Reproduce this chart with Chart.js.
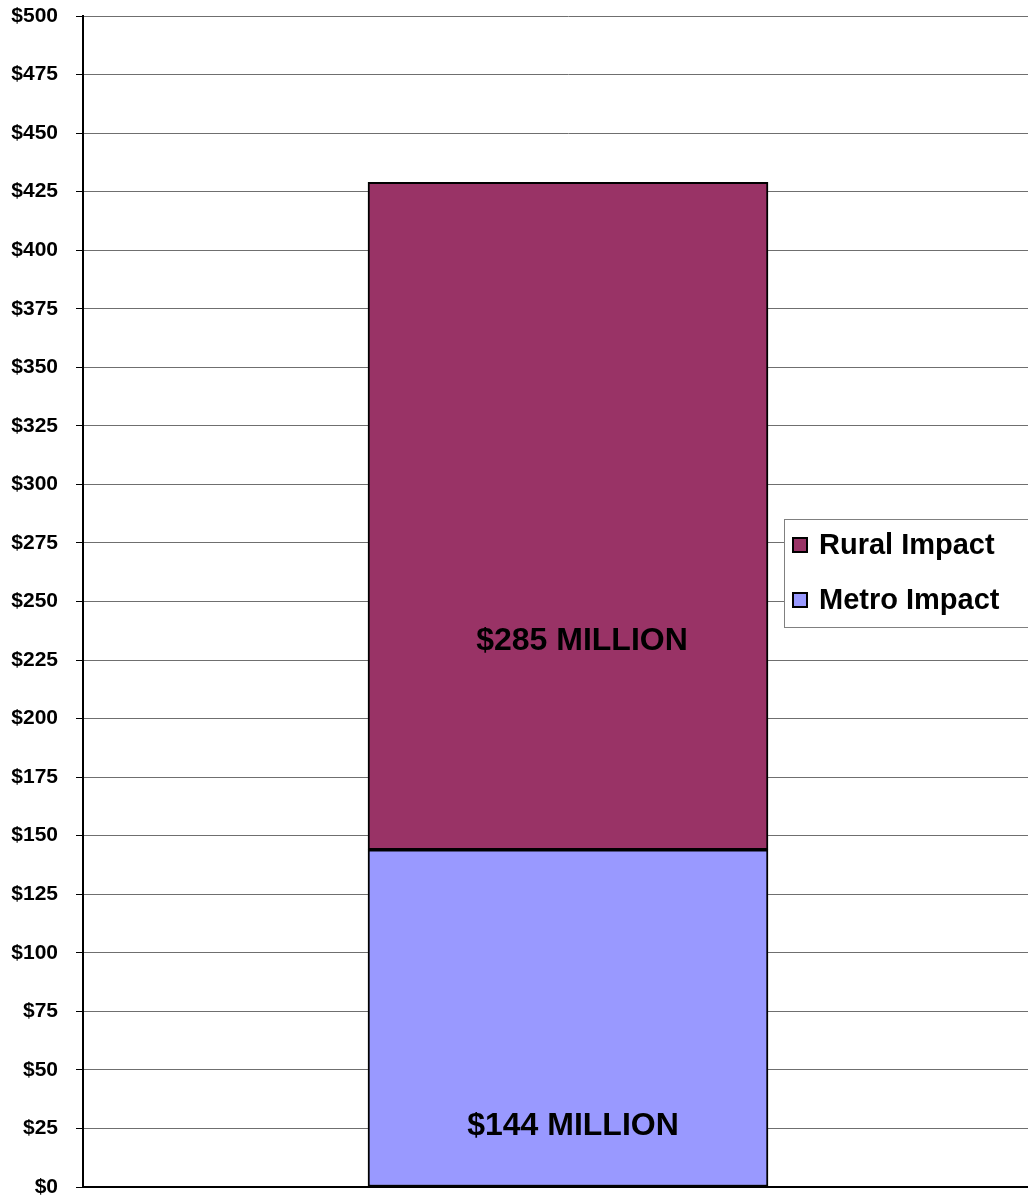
<!DOCTYPE html>
<html>
<head>
<meta charset="utf-8">
<script src="https://cdn.jsdelivr.net/npm/chart.js@4.4.0/dist/chart.umd.min.js"></script>
<style>
  html, body { margin: 0; padding: 0; background: #fff; overflow: hidden; }
  #wrap { width: 1053px; height: 1198px; position: relative; }
</style>
</head>
<body>
<div id="wrap"><canvas id="chart"></canvas></div>
<script>
// data ($ millions)
const categories = [''];
const seriesNames = ['Metro Impact', 'Rural Impact'];
const metroValues = [144];
const ruralValues = [285];
const barLabels = ['$144 MILLION', '$285 MILLION'];
const yTicks = [0, 25, 50, 75, 100, 125, 150, 175, 200, 225, 250, 275, 300, 325, 350, 375, 400, 425, 450, 475, 500];

const FONT = '"Liberation Sans", Arial, Helvetica, sans-serif';
const metroColor = '#9999ff';
const ruralColor = '#993366';

// big labels inside the bar segments + boxed legend sitting over the plot
const overlayPlugin = {
  id: 'overlay',
  afterDatasetsDraw(chart) {
    const ctx = chart.ctx;
    ctx.save();
    ctx.fillStyle = '#000';
    ctx.font = 'bold 32px ' + FONT;
    ctx.textAlign = 'center';
    ctx.textBaseline = 'middle';
    // where the label sits inside each segment (fraction from its top)
    const frac = [0.82, 0.687];
    const dx = [5, 14];
    chart.data.datasets.forEach((ds, i) => {
      const bar = chart.getDatasetMeta(i).data[0];
      const top = Math.min(bar.y, bar.base);
      const h = Math.abs(bar.base - bar.y);
      ctx.fillText(barLabels[i], bar.x + dx[i], top + h * frac[i]);
    });
    ctx.restore();
  },
  afterDraw(chart) {
    const ctx = chart.ctx;
    const lx = 784.5, ly = 519.5, lw = 300, lh = 108;
    ctx.save();
    ctx.fillStyle = '#fff';
    ctx.fillRect(lx, ly, lw, lh);
    ctx.strokeStyle = '#808080';
    ctx.lineWidth = 1;
    ctx.strokeRect(lx, ly, lw, lh);
    ctx.font = 'bold 29px ' + FONT;
    ctx.textBaseline = 'middle';
    const items = chart.data.datasets.slice().reverse();
    items.forEach((ds, i) => {
      const cy = 545 + i * 55;
      ctx.fillStyle = ds.backgroundColor;
      ctx.fillRect(793, cy - 7, 14, 14);
      ctx.strokeStyle = '#000';
      ctx.lineWidth = 2;
      ctx.strokeRect(793, cy - 7, 14, 14);
      ctx.fillStyle = '#000';
      ctx.fillText(ds.label, 819, cy + 1);
    });
    ctx.restore();
  }
};

new Chart(document.getElementById('chart'), {
  type: 'bar',
  data: {
    labels: categories,
    datasets: [
      {
        label: seriesNames[0],
        data: metroValues,
        backgroundColor: metroColor,
        borderColor: '#000',
        borderWidth: 2,
        borderSkipped: false,
        barThickness: 400
      },
      {
        label: seriesNames[1],
        data: ruralValues,
        backgroundColor: ruralColor,
        borderColor: '#000',
        borderWidth: 2,
        borderSkipped: false,
        barThickness: 400
      }
    ]
  },
  options: {
    responsive: true,
    maintainAspectRatio: false,
    animation: false,
    layout: { padding: { top: 16, right: 0, bottom: 11, left: 0 } },
    plugins: {
      legend: { display: false },
      tooltip: { enabled: false }
    },
    scales: {
      x: {
        stacked: true,
        grid: { display: false },
        ticks: { display: false },
        border: { display: true, color: '#000', width: 2 },
        afterFit: scale => { scale.height = 0; }
      },
      y: {
        stacked: true,
        min: 0,
        max: 500,
        afterBuildTicks: scale => {
          scale.ticks = yTicks.map(v => ({ value: v }));
        },
        ticks: {
          color: '#000',
          font: { family: FONT, size: 21, weight: 'bold' },
          padding: 18,
          callback: v => '$' + v
        },
        grid: {
          color: '#6f6f6f',
          lineWidth: 1,
          tickLength: 7,
          tickColor: '#000'
        },
        border: { color: '#000', width: 2 },
        afterFit: scale => {
          scale.width = 83;
          scale.paddingTop = 0;
          scale.paddingBottom = 0;
        }
      }
    }
  },
  plugins: [overlayPlugin]
});
</script>
</body>
</html>
